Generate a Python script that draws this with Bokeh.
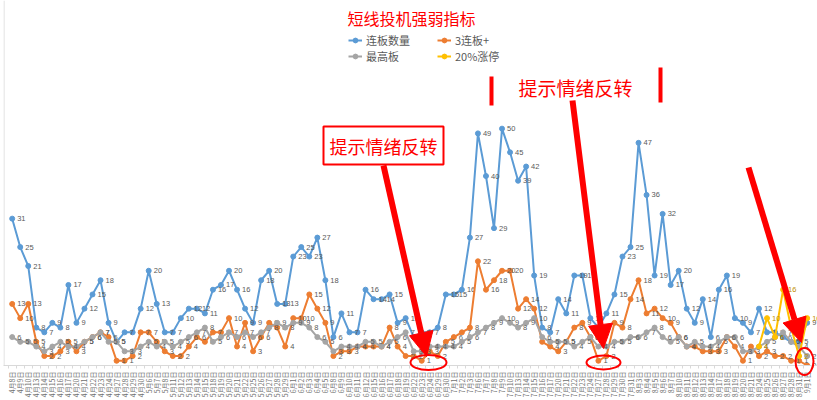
import math
from bokeh.plotting import figure
from bokeh.models import (Range1d, FixedTicker, Legend, LegendItem, Label, Arrow,
                          NormalHead, Span, BoxAnnotation, ColumnDataSource)
from bokeh.core.properties import value
from bokeh.embed import file_html
from bokeh.resources import INLINE

nan = float("nan")

dates = ["4月8日", "4月9日", "4月10日", "4月13日", "4月14日", "4月15日", "4月16日", "4月17日",
         "4月20日", "4月21日", "4月22日", "4月23日", "4月24日", "4月27日", "4月28日", "4月29日", "4月30日",
         "5月6日", "5月7日", "5月8日", "5月11日", "5月12日", "5月13日", "5月14日", "5月15日",
         "5月18日", "5月19日", "5月20日", "5月21日", "5月22日", "5月25日", "5月26日", "5月27日", "5月28日", "5月29日",
         "6月1日", "6月2日", "6月3日", "6月4日", "6月5日", "6月8日", "6月9日", "6月10日", "6月11日", "6月12日",
         "6月15日", "6月16日", "6月17日", "6月18日", "6月19日", "6月22日", "6月23日", "6月24日", "6月29日", "6月30日",
         "7月1日", "7月2日", "7月3日", "7月6日", "7月7日", "7月8日", "7月9日", "7月10日",
         "7月13日", "7月14日", "7月15日", "7月16日", "7月17日", "7月20日", "7月21日", "7月22日", "7月23日", "7月24日",
         "7月27日", "7月28日", "7月29日", "7月30日", "7月31日",
         "8月3日", "8月4日", "8月5日", "8月6日", "8月7日", "8月10日", "8月11日", "8月12日", "8月13日", "8月14日",
         "8月17日", "8月18日", "8月19日", "8月20日", "8月21日", "8月24日", "8月25日", "8月26日", "8月27日", "8月28日",
         "8月31日", "9月1日"]

lianban = [31, 25, 21, 8, 7, 9, 8, 17, 9, 12,
           15, 18, 9, 5, 7, 7, 12, 20, 13, 7,
           7, 10, 12, 12, 11, 16, 17, 20, 16, 12,
           9, 18, 20, 13, 13, 23, 25, 23, 27, 18,
           6, 11, 7, 7, 16, 14, 14, 15, 9, 10,
           6, 7, 7, 8, 15, 15, 16, 27, 49, 40,
           29, 50, 45, 39, 42, 19, 8, 7, 14, 11,
           19, 19, 10, 8, 11, 15, 23, 25, 47, 36,
           19, 32, 17, 20, 12, 9, 14, 6, 16, 19,
           10, 9, 7, 12, 7, 7, 6, 5, 5, 9]

san_lianban = [13, 10, 13, 5, 2, 2, 3, 5, 3, 5,
               6, 7, 6, 1, 1, 2, 7, 7, 5, 3,
               2, 2, 4, 6, 5, 7, 7, 10, 4, 9,
               3, 6, 9, 8, 4, 10, 10, 15, 12, 9,
               2, 3, 3, 4, 4, 4, 4, 8, 4, 2,
               2, 1, 3, 2, 5, 6, 7, 8, 22, 16,
               18, 20, 20, 12, 14, 12, 5, 4, 3, 5,
               8, 9, 6, 1, 2, 9, 8, 14, 18, 11,
               12, 10, 9, 6, 4, 4, 3, 3, 3, 6,
               4, 1, 4, 2, 3, 2, 2, 1, 1, 0]

zuigao = [6, 5, 5, 4, 3, 4, 5, 4, 4, 5,
          6, 7, 5, 5, 3, 3, 4, 5, 4, 5,
          4, 5, 6, 7, 8, 5, 6, 7, 6, 7,
          6, 7, 8, 9, 8, 9, 9, 8, 6, 5,
          3, 4, 4, 4, 5, 5, 4, 5, 6, 7,
          3, 3, 4, 4, 4, 4, 5, 6, 7, 8,
          9, 10, 9, 8, 9, 10, 6, 5, 5, 5,
          4, 5, 6, 4, 4, 5, 5, 6, 6, 7,
          8, 6, 5, 6, 4, 5, 4, 4, 5, 6,
          6, 3, 3, 4, 5, 6, 7, 5, 4, 2]

zt20 = [nan] * 93 + [4, 10, 6, 16, 8, 2, 10]

series_names = ["连板数量", "3连板+", "最高板", "20%涨停"]
series_colors = ["#5B9BD5", "#ED7D31", "#A5A5A5", "#FFC000"]
label_colors = ["#595959", "#595959", "#595959", "#BF9000"]

x = list(range(len(dates)))

# ---- layout helpers (pixel -> data) ----
PX0, PXS = 11.7, 8.03      # pixel x of first category, pixels per category
PY0, PYS = 365.0, 4.737    # pixel y of value 0, pixels per unit
def ix(px):
    return (px - PX0) / PXS
def iv(py):
    return (PY0 - py) / PYS

p = figure(width=817, height=400, output_backend="svg", toolbar_location=None,
           x_range=Range1d(ix(3), ix(817)), y_range=Range1d(0, iv(0)),
           min_border_left=3, min_border_right=0, min_border_top=0, min_border_bottom=35,
           y_axis_location=None, outline_line_color=None,
           background_fill_color="white", border_fill_color="white")
p.grid.visible = False

ax = p.xaxis[0]
ax.ticker = FixedTicker(ticks=x, minor_ticks=[i - 0.5 for i in range(len(dates) + 1)])
ax.major_label_overrides = {i: d for i, d in enumerate(dates)}
ax.major_label_orientation = math.pi / 2
ax.major_label_text_font_size = "7px"
ax.major_label_text_font = "Noto Sans CJK SC"
ax.major_label_text_color = "#707070"
ax.major_label_standoff = 3
ax.major_tick_out = 0
ax.major_tick_in = 0
ax.minor_tick_out = 3
ax.minor_tick_in = 0
ax.minor_tick_line_color = "#d9d9d9"
ax.axis_line_color = "#d9d9d9"

p.add_layout(Span(location=ix(3.5), dimension="height", line_color="#d9d9d9", line_width=1))

items = []
for name, vals, color, lc in zip(series_names, [lianban, san_lianban, zuigao, zt20],
                                 series_colors, label_colors):
    src = ColumnDataSource(dict(x=x, y=vals))
    r1 = p.line("x", "y", source=src, line_color=color, line_width=2)
    r2 = p.scatter("x", "y", source=src, marker="circle", size=5,
                   fill_color=color, line_color=color)
    lx = [i for i, v in zip(x, vals) if v == v]
    ly = [v for v in vals if v == v]
    p.text(x=lx, y=ly, text=[str(int(v)) for v in ly], x_offset=5,
           text_baseline="middle", text_align="left",
           text_font_size=value("7.5px"), text_color=lc,
           text_font=value("Liberation Sans"))
    items.append(LegendItem(label=name, renderers=[r1, r2]))

leg = Legend(items=items, orientation="horizontal", ncols=2,
             location=(345, PY0 - 64),
             glyph_width=14, glyph_height=12, label_height=12, label_width=71,
             label_standoff=4, spacing=0, padding=0, margin=0,
             border_line_color=None, background_fill_alpha=0,
             label_text_font_size="11px", label_text_font="Noto Sans CJK SC",
             label_text_color="#595959")
p.add_layout(leg)

# title
p.add_layout(Label(x=ix(411), y=iv(17), text="短线投机强弱指标", text_align="center",
                   text_baseline="middle", text_font_size="16px", text_color="#FF0000",
                   text_font="Noto Sans CJK SC"))

# annotation boxes
p.add_layout(Label(x=ix(383), y=iv(145), text="提示情绪反转", text_align="center",
                   text_baseline="middle", text_font_size="18px", text_color="#FF0000",
                   text_font="Noto Sans CJK SC", border_line_color="#FF0000",
                   border_line_width=2, background_fill_color="white", padding=6))
p.add_layout(Label(x=ix(575), y=iv(87), text="提示情绪反转", text_align="center",
                   text_baseline="middle", text_font_size="19px", text_color="#FF0000",
                   text_font="Noto Sans CJK SC"))
p.add_layout(BoxAnnotation(left=ix(489), right=ix(493), bottom=iv(105), top=iv(76),
                           fill_color="#FF0000", fill_alpha=1, line_color=None))
p.add_layout(BoxAnnotation(left=ix(658), right=ix(662), bottom=iv(102), top=iv(67),
                           fill_color="#FF0000", fill_alpha=1, line_color=None))

# arrows
arrow_px = [((383, 165), (426, 356)), ((572, 100), (603, 348)), ((748, 167), (801, 342))]
for (sx, sy), (ex, ey) in arrow_px:
    p.add_layout(Arrow(x_start=ix(sx), y_start=iv(sy), x_end=ix(ex), y_end=iv(ey),
                       line_color="#FF0000", line_width=6,
                       end=NormalHead(size=24, fill_color="#FF0000", line_color="#FF0000")))

# ellipses (overlay level so they may extend past the axis line)
ell_px = [(428, 362, 36, 15), (603, 362, 34, 14), (804, 361, 18, 27)]
p.ellipse(x=[ix(e[0]) for e in ell_px], y=[iv(e[1]) for e in ell_px],
          width=[e[2] / PXS for e in ell_px], height=[e[3] / PYS for e in ell_px],
          fill_color=None, line_color="#FF0000", line_width=2, level="overlay")

open("out.html", "w").write(file_html(p, INLINE))
